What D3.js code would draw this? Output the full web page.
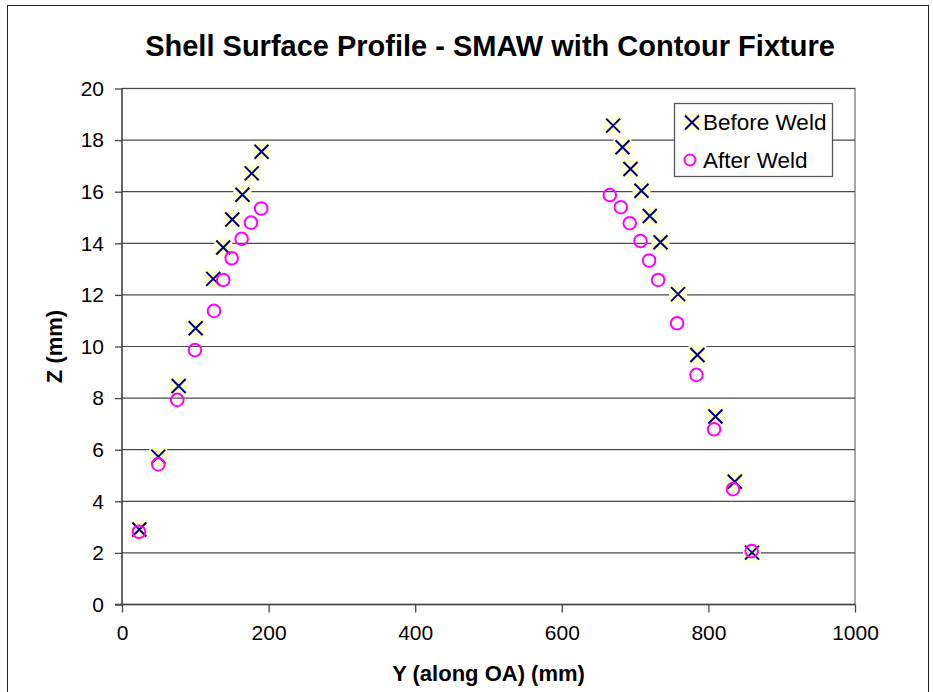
<!DOCTYPE html>
<html>
<head>
<meta charset="utf-8">
<script src="https://d3js.org/d3.v7.min.js"></script>
<style>
    body { margin: 0; background: #fff; }
    text { font-family: "Liberation Sans", Arial, sans-serif; }
</style>
</head>
<body>
<svg width="933" height="692"></svg>
<script>

// Before Weld (X markers)
var beforeY = [23.6, 49.5, 77.3, 100.5, 124.5, 138.1, 150.4, 164.3, 177.0, 190.3,
               670.0, 682.8, 693.7, 708.7, 720.0, 734.6, 758.6, 785.0, 809.6, 836.0, 859.5]
var beforeZ = [2.91, 5.73, 8.47, 10.71, 12.62, 13.84, 14.92, 15.88, 16.71, 17.55,
               18.56, 17.72, 16.88, 16.04, 15.06, 14.04, 12.03, 9.67, 7.29, 4.76, 2.01]

// After Weld (circles)
var afterY = [23.2, 49.5, 75.4, 99.5, 125.5, 138.1, 149.6, 163.2, 176.0, 189.9,
              665.5, 680.5, 692.7, 707.4, 719.1, 731.4, 757.3, 783.7, 807.7, 833.6, 859.0]
var afterZ = [2.82, 5.43, 7.93, 9.86, 11.38, 12.58, 13.42, 14.17, 14.80, 15.35,
              15.87, 15.40, 14.78, 14.09, 13.33, 12.58, 10.90, 8.90, 6.79, 4.47, 2.07]

var xTicks = [0, 200, 400, 600, 800, 1000]
var yTicks = [0, 2, 4, 6, 8, 10, 12, 14, 16, 18, 20]

var svg = d3.select("svg")

var pLeft = 122, pRight = 855, pTop = 88.5, pBottom = 604.5

var x = d3.scaleLinear().domain([0, 1000]).range([pLeft, pRight])
var y = d3.scaleLinear().domain([0, 20]).range([pBottom, pTop])

// outer chart border
svg.append("rect")
   .attr("x", 7.5).attr("y", 5.5)
   .attr("width", 921).attr("height", 700)
   .attr("fill", "none")
   .attr("stroke", "#222")
   .attr("stroke-width", 1)

svg.append("text")
   .attr("x", 490)
   .attr("y", 56)
   .attr("text-anchor", "middle")
   .attr("font-size", "29px")
   .attr("font-weight", "bold")
   .text("Shell Surface Profile - SMAW with Contour Fixture")

// plot area frame
svg.append("rect")
   .attr("x", pLeft).attr("y", pTop)
   .attr("width", pRight - pLeft).attr("height", pBottom - pTop)
   .attr("fill", "none")
   .attr("stroke", "#8a8a8a")
   .attr("stroke-width", 1.5)

// gridlines
svg.append("g")
   .selectAll("line")
   .data(yTicks.filter(function(d) { return d > 0; }))
   .enter().append("line")
   .attr("x1", pLeft).attr("x2", pRight)
   .attr("y1", function(d) { return y(d); })
   .attr("y2", function(d) { return y(d); })
   .attr("stroke", "#4a4a4a")
   .attr("stroke-width", 1.2)

var yAxis = svg.append("g")
   .attr("transform", "translate(" + pLeft + ",0)")
   .call(d3.axisLeft(y).tickValues(yTicks).tickSize(7).tickPadding(11))
yAxis.selectAll("text").attr("font-size", "21px").attr("fill", "#000")
   .style("font-family", "'Liberation Sans', Arial, sans-serif")
yAxis.selectAll("line, path").attr("stroke", "#444").attr("stroke-width", 1.3)
yAxis.select("path").attr("d", "M0," + pBottom + "V" + pTop)

var xAxis = svg.append("g")
   .attr("transform", "translate(0," + pBottom + ")")
   .call(d3.axisBottom(x).tickValues(xTicks).tickFormat(d3.format("d")).tickSize(8).tickPadding(13))
xAxis.selectAll("text").attr("font-size", "21px").attr("fill", "#000")
   .style("font-family", "'Liberation Sans', Arial, sans-serif")
xAxis.selectAll("line, path").attr("stroke", "#444").attr("stroke-width", 1.3)
xAxis.select("path").attr("d", "M" + (pLeft - 7) + ",0H" + pRight)

svg.append("text")
   .attr("x", (pLeft + pRight) / 2)
   .attr("y", 681)
   .attr("text-anchor", "middle")
   .attr("font-size", "22px")
   .attr("font-weight", "bold")
   .text("Y (along OA) (mm)")

svg.append("text")
   .attr("transform", "translate(62," + ((pTop + pBottom) / 2) + ") rotate(-90)")
   .attr("text-anchor", "middle")
   .attr("font-size", "22px")
   .attr("font-weight", "bold")
   .text("Z (mm)")

function drawCross(g, cx, cy) {
    g.append("rect")
     .attr("x", cx - 9).attr("y", cy - 9)
     .attr("width", 18).attr("height", 18)
     .attr("fill", "#ffffcc")
    g.append("path")
     .attr("d", "M" + (cx - 7) + "," + (cy - 7) + "L" + (cx + 7) + "," + (cy + 7) +
                "M" + (cx + 7) + "," + (cy - 7) + "L" + (cx - 7) + "," + (cy + 7))
     .attr("stroke", "#000080")
     .attr("stroke-width", 2)
     .attr("fill", "none")
}

var before = beforeY.map(function(d, i) { return {y: d, z: beforeZ[i]}; })
var after = afterY.map(function(d, i) { return {y: d, z: afterZ[i]}; })

var gBefore = svg.append("g")
before.forEach(function(d) { drawCross(gBefore, x(d.y), y(d.z)); })

svg.append("g")
   .selectAll("circle")
   .data(after)
   .enter().append("circle")
   .attr("cx", function(d) { return x(d.y); })
   .attr("cy", function(d) { return y(d.z); })
   .attr("r", 6.3)
   .attr("fill", "none")
   .attr("stroke", "#ff00ff")
   .attr("stroke-width", 2)

// legend
var legend = svg.append("g")
legend.append("rect")
   .attr("x", 674.5).attr("y", 103.5)
   .attr("width", 158).attr("height", 73)
   .attr("fill", "#fff")
   .attr("stroke", "#555")
   .attr("stroke-width", 1.3)
drawCross(legend, 692, 122.5)
legend.append("circle")
   .attr("cx", 690).attr("cy", 160)
   .attr("r", 5.5)
   .attr("fill", "none")
   .attr("stroke", "#ff00ff")
   .attr("stroke-width", 2)
legend.append("text")
   .attr("x", 703).attr("y", 129.5)
   .attr("font-size", "22.5px")
   .text("Before Weld")
legend.append("text")
   .attr("x", 703).attr("y", 167.5)
   .attr("font-size", "22.5px")
   .text("After Weld")

</script>
</body>
</html>
